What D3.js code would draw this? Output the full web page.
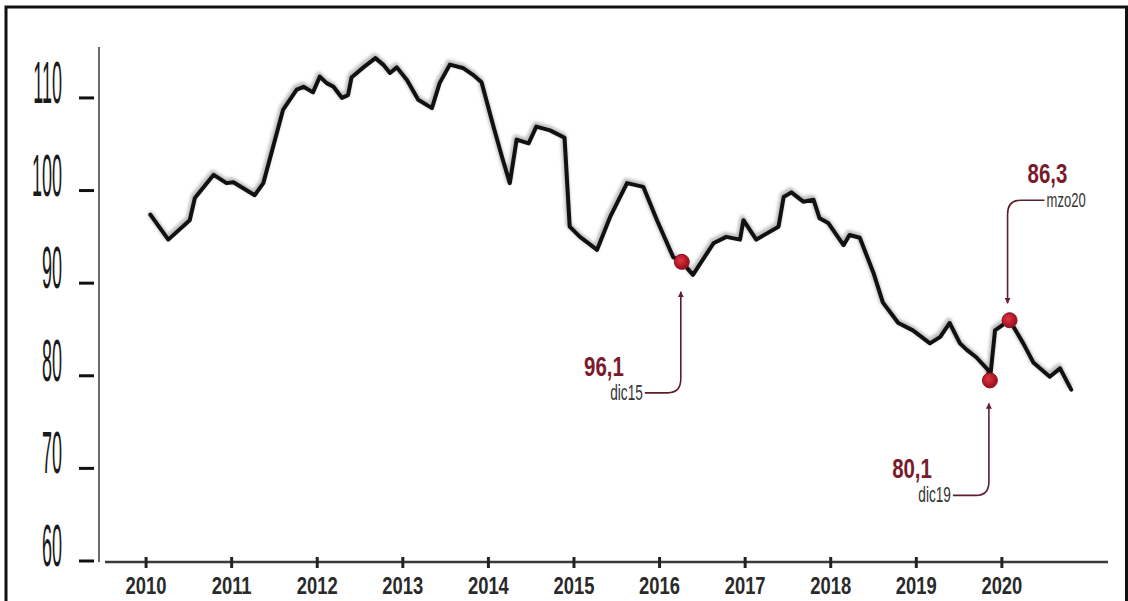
<!DOCTYPE html>
<html>
  <head>
    <meta charset="UTF-8">
    <style>
      body {
        margin: 0;
        background: #ffffff;
        font-family: 'Liberation Sans', Arial, sans-serif;
      }
    </style>
    <script src="https://d3js.org/d3.v7.min.js"></script>
  </head>

  <body>
    <svg id="chart"></svg>

    <script type="text/javascript">
      // decimal years and index values
      let lineYears = [2010.05, 2010.26, 2010.51, 2010.57, 2010.79, 2010.94, 2011.02, 2011.27, 2011.37, 2011.60,
        2011.76, 2011.84, 2011.95, 2012.03, 2012.11, 2012.19, 2012.29, 2012.36, 2012.40, 2012.54,
        2012.68, 2012.77, 2012.85, 2012.93, 2013.05, 2013.18, 2013.34, 2013.43, 2013.55, 2013.71,
        2013.82, 2013.92, 2014.06, 2014.16, 2014.25, 2014.33, 2014.47, 2014.56, 2014.72, 2014.89,
        2014.95, 2015.07, 2015.27, 2015.42, 2015.62, 2015.81, 2015.97, 2016.16, 2016.26, 2016.39,
        2016.63, 2016.78, 2016.94, 2016.98, 2017.13, 2017.39, 2017.45, 2017.54, 2017.68, 2017.80,
        2017.87, 2017.97, 2018.15, 2018.22, 2018.34, 2018.50, 2018.61, 2018.79, 2018.96, 2019.16,
        2019.28, 2019.39, 2019.51, 2019.59, 2019.70, 2019.84, 2019.86, 2019.92, 2020.09, 2020.25,
        2020.37, 2020.56, 2020.68, 2020.81]
      let lineValues = [97.4, 94.7, 96.8, 99.2, 101.7, 100.8, 100.9, 99.5, 100.8, 108.7,
        110.9, 111.2, 110.6, 112.3, 111.6, 111.2, 110.0, 110.3, 112.2, 113.3,
        114.3, 113.6, 112.7, 113.3, 111.9, 109.8, 108.9, 111.6, 113.6, 113.2,
        112.5, 111.7, 106.9, 103.6, 100.8, 105.5, 105.1, 106.9, 106.5, 105.7,
        96.1, 95.0, 93.6, 97.1, 100.8, 100.4, 96.8, 92.8, 92.3, 90.9,
        94.3, 95.0, 94.7, 96.8, 94.7, 96.1, 99.3, 99.8, 98.8, 99.0,
        97.0, 96.5, 94.1, 95.2, 94.9, 91.1, 87.9, 85.7, 84.9, 83.5,
        84.2, 85.7, 83.5, 82.8, 82.0, 80.6, 79.5, 84.9, 86.0, 83.5,
        81.4, 79.9, 80.8, 78.5]

      let xTicks = [2010, 2011, 2012, 2013, 2014, 2015, 2016, 2017, 2018, 2019, 2020]
      let yTicks = [60, 70, 80, 90, 100, 110]

      let noteYears = [2016.26, 2019.86, 2020.09]
      let noteValues = [92.3, 79.5, 86.0]
      let noteNumbers = ['96,1', '80,1', '86,3']
      let noteDates = ['dic15', 'dic19', 'mzo20']

      function getConfig() {
        let width = 1128
        let height = 601
        let container = d3.select('#chart')
          .attr('width', width)
          .attr('height', height)
          .style('display', 'block')
        return {width, height, container}
      }

      function getScales() {
        let xScale = d3.scaleLinear()
          .domain([2009.52, 2021.24])
          .range([105, 1108])
        let yScale = d3.scaleLinear()
          .domain([60, 115.5])
          .range([561, 47])
        return {xScale, yScale}
      }

      function drawFrame(config) {
        let {container, width, height} = config
        container.append('path')
          .attr('d', `M6,${height} V7 H${width - 1.5} V${height}`)
          .attr('fill', 'none')
          .attr('stroke', '#111')
          .attr('stroke-width', 3)
      }

      function drawAxes(scales, config) {
        let {xScale, yScale} = scales
        let {container} = config

        // y axis: thin grey rule, detached dash ticks, tall narrow labels
        let axisY = d3.axisLeft(yScale)
          .tickValues(yTicks)
          .tickSize(0)
          .tickFormat('')
        let gy = container.append('g')
          .attr('transform', 'translate(99, 0)')
          .call(axisY)
        gy.select('.domain')
          .attr('d', `M0,${yScale.range()[1]} V${yScale(60) + 1}`)
          .attr('stroke', '#6a6a6a')
          .attr('stroke-width', 2)

        let yLabels = container.append('g')
        yTicks.forEach(v => {
          yLabels.append('line')
            .attr('x1', 79).attr('x2', 94)
            .attr('y1', yScale(v)).attr('y2', yScale(v))
            .attr('stroke', '#111')
            .attr('stroke-width', 3)
          yLabels.append('text')
            .text(v)
            .attr('transform', `translate(62, ${yScale(v) + 5}) scale(0.3, 1)`)
            .attr('text-anchor', 'end')
            .style('font-size', '60px')
            .style('fill', '#1a1a1a')
        })

        // x axis
        let axisX = d3.axisBottom(xScale)
          .tickValues(xTicks)
          .tickSize(0)
          .tickFormat('')
        let gx = container.append('g')
          .attr('transform', 'translate(0, 562)')
          .call(axisX)
        gx.select('.domain')
          .attr('d', `M${xScale.range()[0]},0 H${xScale.range()[1]}`)
          .attr('stroke', '#3a3a3a')
          .attr('stroke-width', 2.5)

        xTicks.forEach(t => {
          gx.append('line')
            .attr('x1', xScale(t)).attr('x2', xScale(t))
            .attr('y1', -5).attr('y2', 6)
            .attr('stroke', '#222')
            .attr('stroke-width', 3)
          gx.append('text')
            .text(t)
            .attr('transform', `translate(${xScale(t)}, 32) scale(0.8, 1)`)
            .attr('text-anchor', 'middle')
            .style('font-size', '23px')
            .style('font-weight', 'bold')
            .style('fill', '#2a2a2a')
        })
      }

      function drawLine(scales, config) {
        let {xScale, yScale} = scales
        let {container} = config
        let points = lineYears.map((y, i) => [y, lineValues[i]])

        let defs = container.append('defs')
        defs.append('filter')
          .attr('id', 'blur')
          .append('feGaussianBlur')
          .attr('stdDeviation', 1.6)

        let line = d3.line()
          .x(d => xScale(d[0]))
          .y(d => yScale(d[1]))

        // smudgy grey shadow of the printed line
        container.append('path')
          .datum(points)
          .attr('d', line)
          .attr('transform', 'translate(-1, -2)')
          .attr('fill', 'none')
          .attr('stroke', '#8a8a8a')
          .attr('stroke-width', 6)
          .attr('stroke-linejoin', 'round')
          .attr('opacity', 0.55)
          .attr('filter', 'url(#blur)')

        container.append('path')
          .datum(points)
          .attr('d', line)
          .attr('fill', 'none')
          .attr('stroke', '#111')
          .attr('stroke-width', 4)
          .attr('stroke-linejoin', 'round')
          .attr('stroke-linecap', 'round')
      }

      function drawNotes(scales, config) {
        let {xScale, yScale} = scales
        let {container} = config
        let noteColor = '#5e1f2c'

        let defs = container.select('defs')
        defs.append('marker')
          .attr('id', 'arrow')
          .attr('viewBox', '0 0 10 10')
          .attr('refX', 9).attr('refY', 5)
          .attr('markerWidth', 6).attr('markerHeight', 7)
          .attr('markerUnits', 'userSpaceOnUse')
          .attr('orient', 'auto')
          .append('path')
          .attr('d', 'M0,0 L10,5 L0,10 z')
          .attr('fill', '#6b1f2e')

        let grad = defs.append('radialGradient')
          .attr('id', 'dot')
          .attr('cx', '40%').attr('cy', '40%')
        grad.append('stop').attr('offset', '0%').attr('stop-color', '#e23446')
        grad.append('stop').attr('offset', '100%').attr('stop-color', '#a3141f')

        // elbow offset of each leader from its dot (down: below, up: above)
        let elbows = [131, 115, -120]

        noteYears.forEach((yr, i) => {
          let cx = xScale(yr)
          let cy = yScale(noteValues[i])
          let ey = cy + elbows[i]
          let p = d3.path()
          let dateX, anchor
          if (elbows[i] > 0) {
            let vx = cx - 1
            p.moveTo(vx - 36, ey)
            p.lineTo(vx - 13, ey)
            p.quadraticCurveTo(vx, ey, vx, ey - 14)
            p.lineTo(vx, cy + (i == 0 ? 30 : 23))
            dateX = vx - 38
            anchor = 'end'
          } else {
            let vx = cx - 2
            p.moveTo(vx + 37, ey)
            p.lineTo(vx + 13, ey)
            p.quadraticCurveTo(vx, ey, vx, ey + 14)
            p.lineTo(vx, cy - 17)
            dateX = vx + 39
            anchor = 'start'
          }

          container.append('path')
            .attr('d', p.toString())
            .attr('fill', 'none')
            .attr('stroke', noteColor)
            .attr('stroke-width', 1.6)
            .attr('marker-end', 'url(#arrow)')

          let numX = dateX - 19
          container.append('text')
            .text(noteNumbers[i])
            .attr('transform', `translate(${numX}, ${ey - 17}) scale(0.73, 1)`)
            .attr('text-anchor', anchor)
            .style('font-size', '28px')
            .style('font-weight', 'bold')
            .style('fill', '#7a1b2c')

          container.append('text')
            .text(noteDates[i])
            .attr('transform', `translate(${dateX}, ${ey + 7}) scale(0.62, 1)`)
            .attr('text-anchor', anchor)
            .style('font-size', i == 2 ? '21px' : '22px')
            .style('fill', '#333')

          container.append('circle')
            .attr('cx', cx)
            .attr('cy', cy)
            .attr('r', 7.5)
            .attr('fill', 'url(#dot)')
            .attr('stroke', '#8a1420')
            .attr('stroke-width', 1)
        })
      }

      function drawChart() {
        let config = getConfig()
        let scales = getScales()
        drawFrame(config)
        drawAxes(scales, config)
        drawLine(scales, config)
        drawNotes(scales, config)
      }

      drawChart()
    </script>
  </body>
</html>
